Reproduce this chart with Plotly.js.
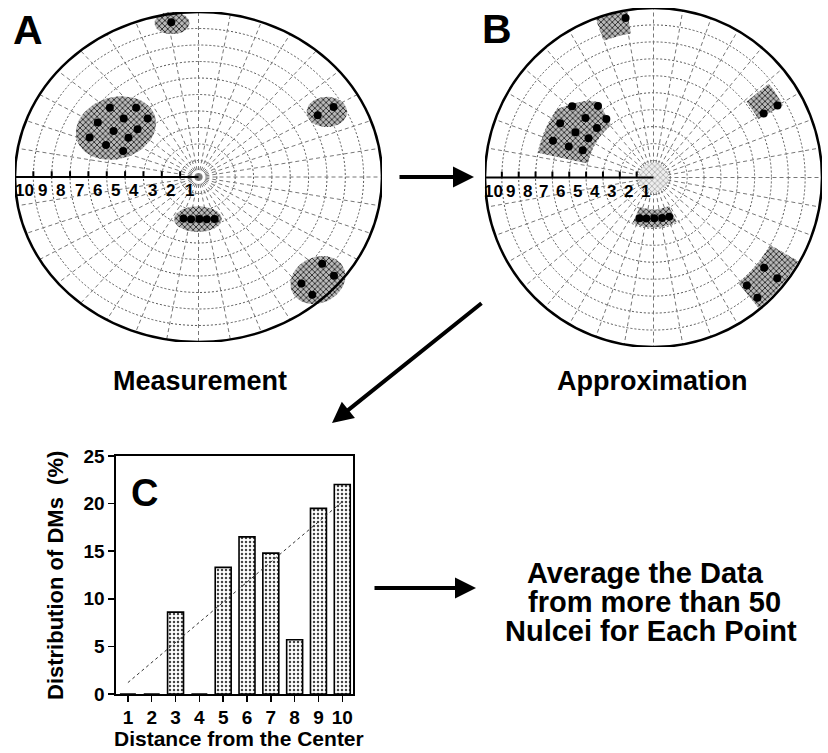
<!DOCTYPE html>
<html><head><meta charset="utf-8">
<script src="https://cdn.plot.ly/plotly-3.0.1.min.js"></script>
<style>html,body{margin:0;padding:0;background:#fff}#chart{width:828px;height:753px}</style>
</head><body><div id="chart"></div>
<script>
// ---------- polar grid data ----------
const ringRadii = [1,2,3,4,5,6,7,8,9,10];
const axisTickR = [1,2,3,4,5,6,7,8,9];
const axisLabels = ['1','2','3','4','5','6','7','8','9','10'];
const spokeAngles = [0,10,20,30,40,50,60,70,80,90,100,110,120,130,140,150,160,170,
                     180,190,200,210,220,230,240,250,260,270,280,290,300,310,320,330,340,350];

// ---------- panel A (measurement): dots (r, theta deg) ----------
const dotsA_r     = [9.5, 6.4,5.4,6.4,5.4,4.5,5.4,4.4,6.4,4.5,5.4,4.4, 8.5,7.5, 2.65,2.6,2.55,2.6,2.7, 8.55,9.5,8.55,9.45];
const dotsA_theta = [99, 139,129,149,139,128,149,139,158,148,159,159, 30,30, 252,261,271,280,289, 322,321,311,311];
// panel A blobs (elliptical, centre r/theta, semi-axes, rotation deg)
const blobA_r     = [9.44, 5.39, 8.03, 2.55, 9.02];
const blobA_theta = [98.8, 146.6, 29.4, 269.3, 316.2];
const blobA_a     = [0.95, 2.25, 1.1, 1.3, 1.6];
const blobA_b     = [0.68, 1.85, 0.92, 0.78, 1.35];
const blobA_rot   = [0, 25, 0, 0, 40];

// ---------- panel B (approximation) ----------
const dotsB_r     = [9.55, 6.4,5.35,6.4,5.35,4.45,5.35,4.45,6.35,4.5,5.35,4.5, 8.5,7.55, 2.55,2.45,2.4,2.45,2.5, 8.45,9.45,8.45,9.4];
const dotsB_theta = [100, 139,128,150,139,129,150,139,160,149,160,159, 30,30, 251,260,271,282,292, 321,321,311,311];
// panel B regions: polygons of grid cells, vertices (r, theta deg)
const regB_r     = [[8.6,10,10,8.6],[4.0,5.5,6.0,7.0,7.0,4.0],[7.1,8.8,8.8,7.1],[1.9,2.95,2.95,1.9],[8.0,9.9,9.9,8.0]];
const regB_theta = [[99,99,110,110],[129,126,131,145,168,168],[29,29,39,39],[245,245,298,298],[309,309,330,330]];
const centreB_r = 0.9;

// ---------- panel C (bar chart) ----------
const distance = [1,2,3,4,5,6,7,8,9,10];
const distribution = [0,0,8.6,0,13.3,16.5,14.8,5.7,19.5,22.0];
const trendX = [1,10];
const trendY = [1.2,20.2];
const yTicks = [0,5,10,15,20,25];

// ---------- helpers ----------
const D = Math.PI/180;
function pol(r,t){return [r*Math.cos(t*D), r*Math.sin(t*D)];}
function ellipse(r,t,a,b,rot){
  const c = pol(r,t), xs=[], ys=[];
  for(let k=0;k<=72;k++){
    const u=k*5*D, lx=a*Math.cos(u), ly=b*Math.sin(u);
    xs.push(c[0]+lx*Math.cos(rot*D)-ly*Math.sin(rot*D));
    ys.push(c[1]+lx*Math.sin(rot*D)+ly*Math.cos(rot*D));
  }
  return [xs,ys];
}
function polyPolar(rs,ts){
  const xs=[],ys=[],n=rs.length;
  for(let i=0;i<n;i++){
    const j=(i+1)%n;
    for(let s=0;s<16;s++){
      const f=s/16, p=pol(rs[i]+(rs[j]-rs[i])*f, ts[i]+(ts[j]-ts[i])*f);
      xs.push(p[0]); ys.push(p[1]);
    }
  }
  xs.push(xs[0]); ys.push(ys[0]);
  return [xs,ys];
}
const hatch = {shape:'x', bgcolor:'#b8b8b8', fgcolor:'#111', size:4, solidity:0.35};

const traces=[], shapes=[], annotations=[];
const bold = {family:'Liberation Sans, Arial, sans-serif', color:'#000', weight:'bold'};

function polarPanel(xa, ya, blobsFn, dR, dT){
  const xr = xa, yr = ya;
  const R = ringRadii[ringRadii.length-1];
  ringRadii.forEach(r=>{
    const outer = r===R;
    shapes.push({type:'circle', xref:xr, yref:yr, x0:-r, x1:r, y0:-r, y1:r, layer: outer?'above':'below',
      line: outer?{color:'#000', width:2.5}:{color:'#555', width:1, dash:'2px,2px'}});
  });
  spokeAngles.forEach(a=>{
    const p = pol(R, a);
    shapes.push({type:'line', xref:xr, yref:yr, x0:0, y0:0, x1:p[0], y1:p[1], layer:'below',
      line:{color:'#777', width:1, dash:'4px,3px'}});
  });
  blobsFn(xa, ya);
  traces.push({type:'scatter', mode:'markers', xaxis:xa, yaxis:ya,
    x: dR.map((r,i)=>pol(r,dT[i])[0]), y: dR.map((r,i)=>pol(r,dT[i])[1]),
    marker:{color:'#000', size:8}, hoverinfo:'skip'});
  shapes.push({type:'line', xref:xr, yref:yr, x0:-R, y0:0, x1:0, y1:0, layer:'above', line:{color:'#000', width:2}});
  axisTickR.forEach(r=>{
    shapes.push({type:'line', xref:xr, yref:yr, x0:-r, y0:0, x1:-r, y1:0.35, layer:'above', line:{color:'#000', width:2}});
  });
  axisLabels.forEach((lab,i)=>{
    annotations.push({xref:xr, yref:yr, x:-(i+1)+0.5, y:0, yanchor:'top', yshift:-2, text:lab, showarrow:false,
      font:Object.assign({size:17}, bold)});
  });
}

polarPanel('x','y',(xa,ya)=>{
  blobA_r.forEach((r,i)=>{
    const e = ellipse(r, blobA_theta[i], blobA_a[i], blobA_b[i], blobA_rot[i]);
    traces.push({type:'scatter', mode:'lines', xaxis:xa, yaxis:ya, x:e[0], y:e[1], fill:'toself',
      line:{width:0, color:'rgba(0,0,0,0)'}, fillcolor:'#b8b8b8', fillpattern:hatch, hoverinfo:'skip'});
  });
}, dotsA_r, dotsA_theta);

polarPanel('x2','y2',(xa,ya)=>{
  const c = ellipse(0,0,centreB_r,centreB_r,0);
  traces.push({type:'scatter', mode:'lines', xaxis:xa, yaxis:ya, x:c[0], y:c[1], fill:'toself',
    line:{width:0, color:'rgba(0,0,0,0)'}, fillcolor:'#eee',
    fillpattern:{shape:'x', bgcolor:'#eeeeee', fgcolor:'#999', size:4, solidity:0.3}, hoverinfo:'skip'});
  regB_r.forEach((rs,i)=>{
    const p = polyPolar(rs, regB_theta[i]);
    traces.push({type:'scatter', mode:'lines', xaxis:xa, yaxis:ya, x:p[0], y:p[1], fill:'toself',
      line:{width:0, color:'rgba(0,0,0,0)'}, fillcolor:'#b8b8b8', fillpattern:hatch, hoverinfo:'skip'});
  });
}, dotsB_r, dotsB_theta);

// bar chart
traces.push({type:'bar', xaxis:'x3', yaxis:'y3', x:distance, y:distribution, width:0.67,
  marker:{color:'#fff', line:{color:'#000', width:1.6},
    pattern:{shape:'.', bgcolor:'#fff', fgcolor:'#444', size:4, solidity:0.3}}, hoverinfo:'skip'});
traces.push({type:'scatter', mode:'lines', xaxis:'x3', yaxis:'y3', x:trendX, y:trendY,
  line:{color:'#333', width:1, dash:'dot'}, hoverinfo:'skip'});

// text labels
function ann(text,px,py,size,extra){
  annotations.push(Object.assign({xref:'paper', yref:'paper', x:px/828, y:1-py/753, text:text, showarrow:false,
    xanchor:'center', yanchor:'middle', font:Object.assign({size:size}, bold)}, extra||{}));
}
ann('A',28,30,41);
ann('B',497,29,41);
ann('C',144,493,38);
ann('Measurement',200,381,27);
ann('Approximation',652,381,27);
ann('Average the Data',645,573,29);
ann(' from more than 50',650,602,29);
ann('Nulcei for Each Point',651,631,29);
ann('Distribution of DMs  (%)',55,576,22,{textangle:-90});
ann('Distance from the Center',239,738,21);

// arrows
function arrow(tx,ty,fx,fy){
  annotations.push({xref:'paper', yref:'paper', x:tx/828, y:1-ty/753, ax:fx-tx, ay:fy-ty, text:'',
    showarrow:true, arrowhead:2, arrowsize:1.05, arrowwidth:4, arrowcolor:'#000', standoff:0, startstandoff:0});
}
arrow(474,177,398,177);
arrow(332,423,483,302);
arrow(476,588,373,588);

const hidden = {visible:false, fixedrange:true, showgrid:false, zeroline:false};
const cAxis = {ticks:'outside', ticklen:6, tickwidth:1.5, tickcolor:'#000', showline:true, mirror:true,
  linecolor:'#000', linewidth:1.6, showgrid:false, zeroline:false, fixedrange:true,
  tickfont:Object.assign({size:19}, bold)};
const layout = {
  width:828, height:753, margin:{l:0,r:0,t:0,b:0}, paper_bgcolor:'#fff', plot_bgcolor:'rgba(0,0,0,0)',
  showlegend:false, shapes:shapes, annotations:annotations,
  xaxis:Object.assign({domain:[15/828,382/828], range:[-10,10], anchor:'y'},hidden),
  yaxis:Object.assign({domain:[1-342/753,1-12/753], range:[-10,10], anchor:'x'},hidden),
  xaxis2:Object.assign({domain:[485/828,822/828], range:[-10,10], anchor:'y2'},hidden),
  yaxis2:Object.assign({domain:[1-347/753,1-8/753], range:[-10,10], anchor:'x2'},hidden),
  xaxis3:Object.assign({domain:[116/828,353/828], range:[0.5,10.45], tickvals:distance, anchor:'y3'}, cAxis),
  yaxis3:Object.assign({domain:[1-694/753,1-456/753], range:[0,25], tickvals:yTicks, anchor:'x3'}, cAxis)
};
Plotly.newPlot('chart', traces, layout, {staticPlot:true, displayModeBar:false});
</script></body></html>
